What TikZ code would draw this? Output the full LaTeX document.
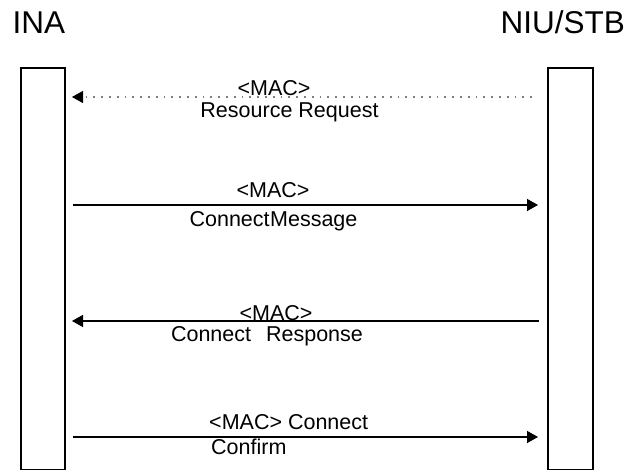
\documentclass[tikz,border=0pt]{standalone}
\usepackage{fontspec}
\setmainfont{Liberation Sans}
\usetikzlibrary{arrows.meta}
\begin{document}
\begin{tikzpicture}[x=1pt,y=-1pt,
  lifebox/.style={draw=black,line width=1.6pt,fill=white},
  title/.style={inner sep=0pt,font=\fontsize{31.5}{33}\selectfont},
  lbl/.style={inner sep=0pt,font=\fontsize{21.5}{23}\selectfont},
  msg/.style={line width=1.4pt,-{Triangle[length=11pt,width=12pt]}},
  dotmsg/.style={draw=gray,line width=1.1pt,dash pattern=on 1.8pt off 6pt,-{Triangle[length=11pt,width=12pt,fill=black,color=black]}}
]
\useasboundingbox (0,0) rectangle (625,470);
% titles
\node[title,anchor=base west] (tina) at (12.5,34) {INA};
\node[title,anchor=base east] (tniu) at (625,34) {NIU/STB};
% lifeline boxes
\node[lifebox,minimum width=44pt,minimum height=402pt,inner sep=0pt,anchor=north west] (ina) at (20,67) {};
\node[lifebox,minimum width=45pt,minimum height=402pt,inner sep=0pt,anchor=north west] (niu) at (547,67) {};
% message end points
\coordinate (m1r) at (532,97);  \coordinate (m1l) at (72,97);
\coordinate (m2l) at (73,205);  \coordinate (m2r) at (538,205);
\coordinate (m3r) at (539,321); \coordinate (m3l) at (72,321);
\coordinate (m4l) at (73,437);  \coordinate (m4r) at (538,437);
% messages
\draw[dotmsg] (m1r) -- (m1l);
\draw[msg] (m2l) -- (m2r);
\draw[msg] (m3r) -- (m3l);
\draw[msg] (m4l) -- (m4r);
% labels
\node[lbl,anchor=base] (l1a) at (274,96) {<MAC>};
\node[lbl,anchor=base] (l1b) at (289.5,117.5) {Resource Request};
\node[lbl,anchor=base] (l2a) at (273,198) {<MAC>};
\node[lbl,anchor=base] (l2b) at (273.5,227) {Connect\kern0.5pt Message};
\node[lbl,anchor=base] (l3a) at (276,321) {<MAC>};
\node[lbl,anchor=base] (l3b) at (267,342) {Connect\hspace{15pt}Response};
\node[lbl,anchor=base west] (l4a) at (209,430) {<MAC> Connect};
\node[lbl,anchor=base west] (l4b) at (211,455) {Confirm};
\end{tikzpicture}
\end{document}
